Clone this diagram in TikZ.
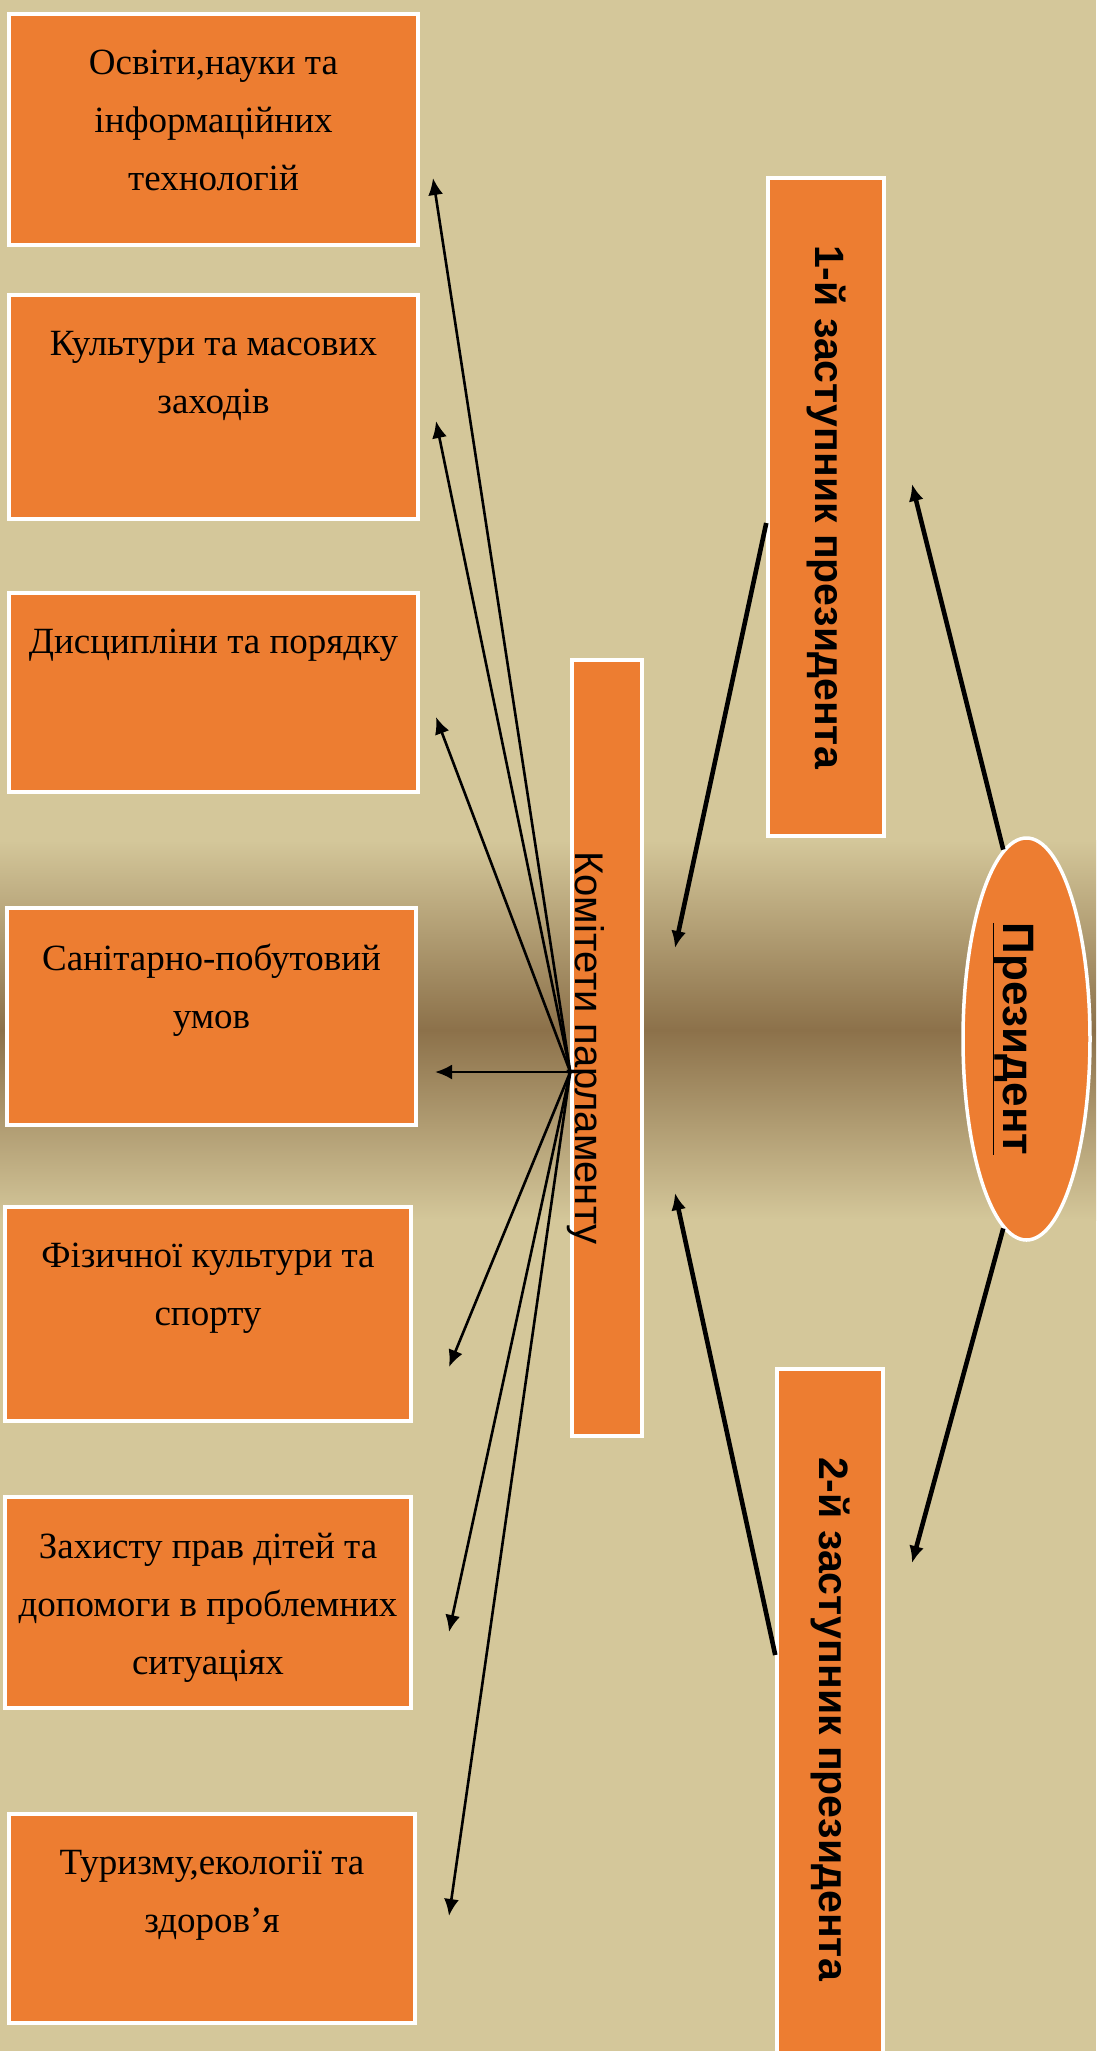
\documentclass[tikz,border=0pt]{standalone}
\usepackage{graphicx}
\usepackage{fontspec}
\setmainfont{Liberation Serif}
\newfontfamily\vertfont{Liberation Sans}
\usetikzlibrary{arrows.meta,shapes.geometric}
\definecolor{parchment}{RGB}{212,199,154}
\definecolor{parchdark}{RGB}{140,113,74}
\definecolor{boxorange}{RGB}{237,125,49}
\tikzset{%
  >={Latex[width=15pt,length=17pt]},
  % Specifications for style of nodes:
           base/.style = {rectangle, draw=white, line width=3.5pt,
                          fill=boxorange, inner sep=0pt},
          topic/.style = {base, minimum width=409pt},
      topictext/.style = {anchor=north, yshift=-38pt, inner sep=0pt,
                          align=center, font=\fontsize{37}{58}\selectfont},
         deputy/.style = {base, minimum width=116pt, minimum height=658pt,
                          font=\vertfont\bfseries\fontsize{41}{46}\selectfont},
      committee/.style = {base, minimum width=70pt, minimum height=776pt,
                          font=\vertfont\fontsize{40}{46}\selectfont},
      president/.style = {ellipse, draw=white, line width=3.5pt, fill=boxorange,
                          inner sep=0pt, minimum width=127pt, minimum height=402pt,
                          font=\vertfont\bfseries\fontsize{44}{50}\selectfont},
           link/.style = {->, line width=2.6pt},
      thicklink/.style = {->, line width=4.6pt}
}
\begin{document}
\begin{tikzpicture}[x=1pt, y=-1pt]
  % background
  \useasboundingbox (0,0) rectangle (1096,2051);
  \fill[parchment] (0,0) rectangle (1096,2051);
  \shade[top color=parchment, bottom color=parchment, middle color=parchdark]
    (0,840) rectangle (1096,1220);

  % Specification of nodes (position, etc.)
  \node (osvita)   [topic, minimum height=231pt,
    label={[topictext]north:{Освіти,науки та\\ інформаційних\\ технологій}}] at (213.5,129.5) {};
  \node (kultura)  [topic, minimum height=224pt,
    label={[topictext]north:{Культури та масових\\ заходів}}] at (213.5,407) {};
  \node (poryadok) [topic, minimum height=199pt,
    label={[topictext]north:{Дисципліни та порядку}}] at (213.5,692.5) {};
  \node (sanitar)  [topic, minimum height=217pt,
    label={[topictext]north:{Санітарно-побутовий\\ умов}}] at (211.5,1016.5) {};
  \node (sport)    [topic, minimum width=406pt, minimum height=214pt,
    label={[topictext]north:{Фізичної культури та\\ спорту}}] at (208,1314) {};
  \node (zahyst)   [topic, minimum width=406pt, minimum height=211pt,
    label={[topictext]north:{Захисту прав дітей та\\ допомоги в проблемних\\ ситуаціях}}] at (208,1602.5) {};
  \node (turyzm)   [topic, minimum width=406pt, minimum height=209pt,
    label={[topictext]north:{Туризму,екології та\\ здоров’я}}] at (212,1918.5) {};

  \node (kom)  [committee] at (607,1048)
    {\hspace*{-42pt}\rotatebox{-90}{Комітети парламенту}};
  \node (dep1) [deputy] at (826,507)
    {\rotatebox{-90}{1-й заступник президента}};
  \node (dep2) [deputy, minimum width=106pt, minimum height=700pt] at (830,1719)
    {\rotatebox{-90}{2-й заступник президента}};
  \node (pres) [president] at (1026.5,1039)
    {\hspace*{-26pt}\rotatebox{-90}{\underline{Президент}}};

  % arrow ends
  \coordinate (toOsvita)   at (433,178);
  \coordinate (toKultura)  at (436,421);
  \coordinate (toPoryadok) at (436,717);
  \coordinate (toSanitar)  at (435,1072);
  \coordinate (toSport)    at (449,1367);
  \coordinate (toZahyst)   at (449,1632);
  \coordinate (toTuryzm)   at (449,1916);
  \coordinate (hub)        at (kom.west |- toSanitar);
  \coordinate (toKom1)     at (675,948);
  \coordinate (toKom2)     at (675,1193);
  \coordinate (toDep1)     at (912,484);
  \coordinate (toDep2)     at (912,1563);

  \draw[link] (hub) -- (toOsvita);
  \draw[link] (hub) -- (toKultura);
  \draw[link] (hub) -- (toPoryadok);
  \draw[link] (hub) -- (toSanitar);
  \draw[link] (hub) -- (toSport);
  \draw[link] (hub) -- (toZahyst);
  \draw[link] (hub) -- (toTuryzm);

  \draw[thicklink] ([yshift=-16pt]dep1.west) -- (toKom1);
  \draw[thicklink] ([yshift=64pt]dep2.west) -- (toKom2);
  \draw[thicklink] (pres.97) -- (toDep1);
  \draw[thicklink] (pres.263) -- (toDep2);
\end{tikzpicture}
\end{document}
